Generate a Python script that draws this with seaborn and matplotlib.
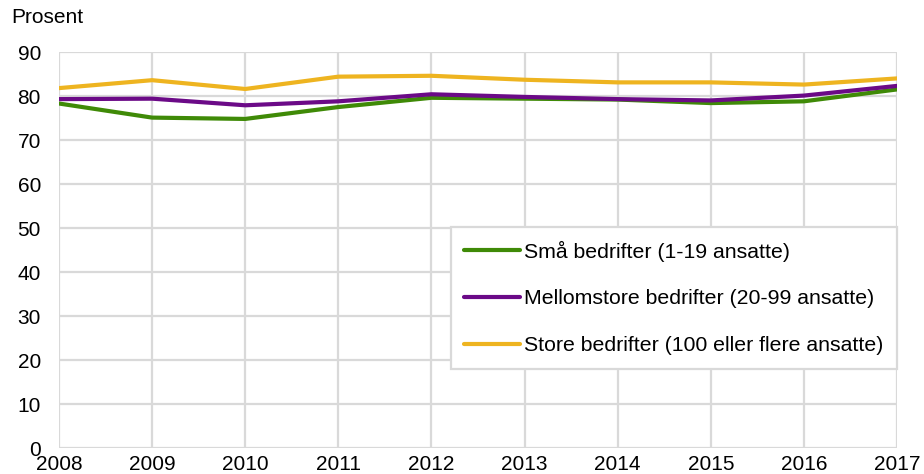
import matplotlib
matplotlib.use("Agg")
import matplotlib.pyplot as plt
import seaborn as sns
import pandas as pd

years = [2008, 2009, 2010, 2011, 2012, 2013, 2014, 2015, 2016, 2017]
sma = [78.3, 75.1, 74.8, 77.5, 79.6, 79.4, 79.2, 78.4, 78.8, 81.5]
mellomstore = [79.3, 79.4, 77.9, 78.8, 80.4, 79.8, 79.3, 79.0, 80.1, 82.3]
store = [81.8, 83.6, 81.6, 84.4, 84.6, 83.7, 83.1, 83.1, 82.6, 84.0]

labels = [
    "Små bedrifter (1-19 ansatte)",
    "Mellomstore bedrifter (20-99 ansatte)",
    "Store bedrifter (100 eller flere ansatte)",
]
colors = ["#3F8A07", "#6B0A87", "#EEB420"]

df = pd.DataFrame({
    "År": years * 3,
    "Prosent": sma + mellomstore + store,
    "Gruppe": [labels[0]] * len(years) + [labels[1]] * len(years) + [labels[2]] * len(years),
})

sns.set_theme(style="white")
plt.rcParams["font.family"] = ["Liberation Sans", "DejaVu Sans"]
plt.rcParams["text.color"] = "black"
plt.rcParams["xtick.color"] = "black"
plt.rcParams["ytick.color"] = "black"

fig = plt.figure(figsize=(9.24, 4.74), dpi=100)
ax = fig.add_axes([59 / 924, 1 - 448.3 / 474, (897 - 59) / 924, (448.3 - 52) / 474])

sns.lineplot(data=df, x="År", y="Prosent", hue="Gruppe", palette=colors,
             linewidth=3.0, ax=ax, legend=True)

ax.set_xlim(2008, 2017)
ax.set_ylim(0, 90)
ax.set_xticks(years)
ax.set_yticks(range(0, 91, 10))
ax.grid(True, color="#D9D9D9", linewidth=1.6)
ax.set_axisbelow(True)
for s in ax.spines.values():
    s.set_visible(False)
ax.tick_params(axis="both", length=0, labelsize=15, labelcolor="black")
ax.tick_params(axis="y", pad=13)
ax.tick_params(axis="x", pad=5)
ax.set_xlabel("")
ax.set_ylabel("")

fig.text(11 / 924, 1 - 8 / 474, "Prosent", fontsize=15, va="top", ha="left",
         color="black")

leg = ax.legend(loc="upper right", bbox_to_anchor=(1.0, 1 - (227 - 52) / 396.3),
                frameon=True, fancybox=False, fontsize=15.3, handlelength=2.6,
                handletextpad=0.2, labelspacing=1.3, borderpad=0.65,
                borderaxespad=0)
leg.get_frame().set_edgecolor("#D9D9D9")
leg.get_frame().set_linewidth(1.6)
leg.get_frame().set_alpha(1.0)
for line in leg.get_lines():
    line.set_linewidth(3.0)
for t in leg.get_texts():
    t.set_color("black")

fig.savefig("out.png", dpi=100)
